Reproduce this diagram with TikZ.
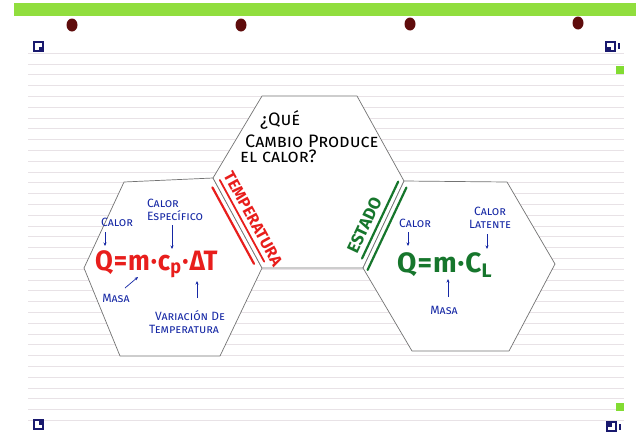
\documentclass[tikz,border=0pt]{standalone}
\usepackage{fontspec}
\setmainfont{Fira Sans}
\usetikzlibrary{arrows.meta,calc}
\definecolor{mred}{RGB}{232,30,28}
\definecolor{mgreen}{RGB}{22,118,44}
\definecolor{mblue}{RGB}{22,40,165}
\definecolor{band}{RGB}{145,222,62}
\definecolor{hole}{RGB}{95,12,12}
\definecolor{navy}{RGB}{25,25,110}
\definecolor{paperrule}{RGB}{232,226,230}
\definecolor{lime}{RGB}{130,220,50}
\tikzset{
  hexagon/.style={fill=white, draw=black!55, line width=0.7pt, line join=round},
  redmark/.style={mred, line width=2.2pt, line cap=round},
  greenmark/.style={mgreen, line width=2.2pt, line cap=round},
  edgelabel/.style={font=\fontsize{16}{16}\selectfont\bfseries, inner sep=0pt},
  title/.style={font=\fontsize{18}{18}\selectfont, anchor=base west, inner sep=0pt, text=black},
  formula/.style={font=\fontsize{28}{28}\selectfont\bfseries, anchor=base west, inner sep=0pt},
  note/.style={font=\fontsize{12}{13}\selectfont, text=mblue, inner sep=0pt, align=center},
  arr/.style={mblue, line width=0.7pt, -{Stealth[length=3.5pt,width=3pt]}},
}
\begin{document}
\begin{tikzpicture}[x=1pt,y=-1pt]
\useasboundingbox (0,0) rectangle (636,434);
\fill[white] (0,0) rectangle (636,434);
% green band and holes
\fill[band] (14,3) rectangle (636,16);
\foreach \hx/\hy in {72/25,241/25,410/24,578/23}
  \fill[hole] (\hx,\hy) ellipse [x radius=5.5pt, y radius=6.5pt];
% ruled lines
\foreach \i in {0,...,34}
  \draw[paperrule, line width=0.6pt] (28,{53+10.8*\i}) -- (624,{53+10.8*\i});
% corner markers
\fill[navy] (33,41) rectangle ++(11,11);
\fill[white] (35,43) rectangle ++(7,7);
\fill[navy] (38.5,46.5) rectangle ++(3.5,3.5);
\fill[navy] (605,41) rectangle ++(11,11);
\fill[white] (607,43) rectangle ++(7,7);
\fill[navy] (607,46.5) rectangle ++(3.5,3.5);
\fill[navy] (618,43) rectangle ++(2,6);
\fill[navy] (33,419) rectangle ++(11,11);
\fill[white] (35,421) rectangle ++(7,7);
\fill[navy] (38.5,421) rectangle ++(3.5,3.5);
\fill[navy] (606,421) rectangle ++(11,11);
\fill[white] (608,423) rectangle ++(7,7);
\fill[navy] (608,423) rectangle ++(3.5,3.5);
\fill[navy] (619,424) rectangle ++(2,6);
\fill[lime] (616,66) rectangle ++(8,8);
\fill[lime] (616,403) rectangle ++(8,8);
% hexagon corners
\coordinate (L1) at (124,182); \coordinate (L2) at (213,178);
\coordinate (L3) at (262,268); \coordinate (L4) at (220,356);
\coordinate (L5) at (120,356); \coordinate (L6) at (84,268);
\coordinate (M1) at (262,96);  \coordinate (M2) at (357,96);
\coordinate (M3) at (404,181); \coordinate (M4) at (363,268);
\coordinate (R2) at (507,182); \coordinate (R3) at (555,264);
\coordinate (R4) at (509,351); \coordinate (R5) at (412,351);
\filldraw[hexagon] (L1)--(L2)--(L3)--(L4)--(L5)--(L6)--cycle;
\filldraw[hexagon] (M1)--(M2)--(M3)--(M4)--(L3)--(L2)--cycle;
\filldraw[hexagon] (M3)--(R2)--(R3)--(R4)--(R5)--(M4)--cycle;
% title
\node[title] (t1) at (260,125) {\textsc{¿Qué}};
\node[title] (t2) at (245,147) {\textsc{Cambio Produce}};
\node[title] (t3) at (240,162) {\textsc{el calor?}};
% temperatura marks
\draw[redmark] (212.4,187.4) -- (254,263.8);
\draw[redmark, line width=1.8pt] (219.8,180) -- (264.2,261.6);
\node[edgelabel, text=mred, rotate=-61.4] (temp) at (253,219) {TEMPERATURA};
% estado marks
\draw[greenmark] (398.2,181.6) -- (362,258.5);
\draw[greenmark] (406.4,187.6) -- (367.6,269.9);
\node[edgelabel, text=mgreen, rotate=64.8] (estado) at (364.3,225.3) {\fontsize{17}{17}\selectfont ESTADO};
% left formula
\node[formula, text=mred] (f1) at (95,270) {\scalebox{0.92}[1]{Q\kern1pt=\kern1pt m\kern1pt·\kern1pt c\textsubscript{p}\kern1pt·\kern1pt ΔT}};
\node[note] (n1) at (117,222) {\textsc{Calor}};
\node[note, align=left] (n2) at (175,210) {\textsc{Calor}\\\textsc{Específico}};
\node[note] (n3) at (116,298) {\textsc{Masa}};
\node[note, align=left] (n4) at (187,322) {\hspace*{6pt}\textsc{Variación De}\\\textsc{Temperatura}};
\coordinate (a1s) at (105,232); \coordinate (a1e) at (105,246);
\coordinate (a2s) at (172,225); \coordinate (a2e) at (172,249);
\coordinate (a3s) at (125,288); \coordinate (a3e) at (138,277);
\coordinate (a4s) at (197,298); \coordinate (a4e) at (197,281);
\draw[arr] (a1s) -- (a1e);
\draw[arr] (a2s) -- (a2e);
\draw[arr] (a3s) -- (a3e);
\draw[arr] (a4s) -- (a4e);
% right formula
\node[formula, text=mgreen] (f2) at (397,272) {Q\kern1pt=\kern1pt m\kern1pt·\kern1pt C\textsubscript{L}};
\node[note] (n5) at (415,223) {\textsc{Calor}};
\node[note] (n6) at (490,218) {\textsc{Calor}\\\textsc{Latente}};
\node[note] (n7) at (444,310) {\textsc{Masa}};
\coordinate (b1s) at (408,232); \coordinate (b1e) at (408,246);
\coordinate (b2s) at (487,234); \coordinate (b2e) at (487,249);
\coordinate (b3s) at (448,297); \coordinate (b3e) at (448,279);
\draw[arr] (b1s) -- (b1e);
\draw[arr] (b2s) -- (b2e);
\draw[arr] (b3s) -- (b3e);
\end{tikzpicture}
\end{document}
